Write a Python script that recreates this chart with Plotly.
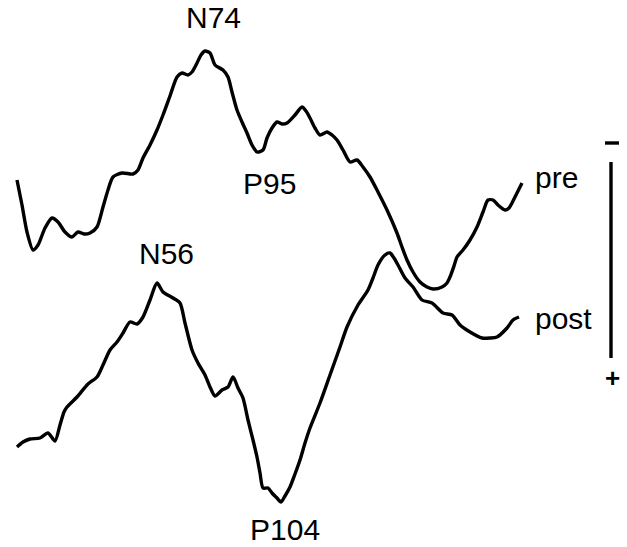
import plotly.graph_objects as go

# Pre-stimulation waveform (x: sample position, y: amplitude in drawing units, negative up)
pre_x = [17,22,27,33,38,45,52,58,65,72,78,84,90,97,103,108,113,122,133,138,143,150,157,163,170,177,182,188,192,197,201,205,210,215,223,228,232,237,242,247,252,257,263,267,272,277,282,287,295,302,306,310,315,320,327,332,337,343,350,357,363,370,378,387,397,402,407,413,420,427,433,442,447,450,454,457,463,470,477,483,488,493,498,505,509,512,517,522]
pre_y = [180,205,232,250,245,228,218,222,232,237,232,234,233,227,207,190,177,173,174,170,158,145,130,115,96,77,73,75,72,63,55,51,53,65,70,77,92,110,122,133,145,152,150,138,128,122,124,123,115,107,111,118,128,135,132,135,140,150,162,160,167,177,192,210,233,247,260,272,282,287,289,287,283,277,266,257,250,240,227,212,200,200,205,210,208,203,193,183]

# Post-stimulation waveform
post_x = [17,23,30,40,48,55,60,64,67,77,88,97,103,110,117,123,130,137,143,150,157,163,173,180,185,192,198,205,210,215,222,228,233,238,243,248,253,257,260,263,268,272,277,281,285,290,295,300,305,310,320,330,340,347,358,368,373,378,385,390,394,398,405,413,422,432,443,452,460,470,482,490,497,507,513,519]
post_y = [447,442,439,438,433,441,425,412,407,397,384,377,365,350,342,333,322,324,317,300,283,292,298,303,323,350,363,375,387,396,390,387,377,388,398,420,440,457,473,488,488,493,498,502,496,487,474,460,443,428,403,375,347,327,305,290,278,265,255,253,258,265,278,287,300,303,313,315,325,332,338,338,337,328,320,317]

# Peak labels (text centred at these points)
peak_labels = ["N74", "P95", "N56"]
peak_x = [213, 269, 166]
peak_y = [17, 183, 253]
# Bottom label sits on the lower edge
bottom_label = "P104"
bottom_label_x = 285
bottom_label_y = 547

# Trace labels
trace_labels = ["pre", "post"]
trace_label_x = [556, 563]
trace_label_y = [177, 318]

# Calibration bar
bar_x = [611, 611]
bar_y = [162, 358]
minus_x = [605, 619]
minus_y = [143, 143]
plus_label = "<b>+</b>"
plus_pos = (612, 378)

FONT = dict(family="Liberation Sans, Arial, Helvetica, sans-serif", size=30, color="black")

fig = go.Figure()
fig.add_trace(go.Scatter(x=pre_x, y=pre_y, mode="lines",
                         line=dict(color="black", width=3.4, shape="spline", smoothing=0.7),
                         hoverinfo="skip", showlegend=False))
fig.add_trace(go.Scatter(x=post_x, y=post_y, mode="lines",
                         line=dict(color="black", width=3.4, shape="spline", smoothing=0.7),
                         hoverinfo="skip", showlegend=False))
fig.add_trace(go.Scatter(x=bar_x, y=bar_y, mode="lines",
                         line=dict(color="black", width=3.4), hoverinfo="skip", showlegend=False))
fig.add_trace(go.Scatter(x=minus_x, y=minus_y, mode="lines",
                         line=dict(color="black", width=3.4), hoverinfo="skip", showlegend=False))

for t, x, y in zip(peak_labels, peak_x, peak_y):
    fig.add_annotation(x=x, y=y, text=t, showarrow=False, font=FONT,
                       xanchor="center", yanchor="middle")
fig.add_annotation(x=bottom_label_x, y=bottom_label_y, text=bottom_label, showarrow=False,
                   font=FONT, xanchor="center", yanchor="bottom", borderpad=0)
for t, x, y in zip(trace_labels, trace_label_x, trace_label_y):
    fig.add_annotation(x=x, y=y, text=t, showarrow=False, font=FONT,
                       xanchor="center", yanchor="middle")
fig.add_annotation(x=plus_pos[0], y=plus_pos[1], text=plus_label, showarrow=False,
                   font=dict(FONT, size=26), xanchor="center", yanchor="middle")

fig.update_layout(
    width=627, height=547,
    margin=dict(l=0, r=0, t=0, b=0),
    paper_bgcolor="white", plot_bgcolor="white",
    xaxis=dict(range=[0, 627], visible=False, fixedrange=True),
    yaxis=dict(range=[547, 0], visible=False, fixedrange=True),
)

fig.write_html("out.html",
               config={"displayModeBar": False},
               post_script="document.body.style.margin='0';document.body.style.padding='0';"
                           "document.body.style.overflow='hidden';")
